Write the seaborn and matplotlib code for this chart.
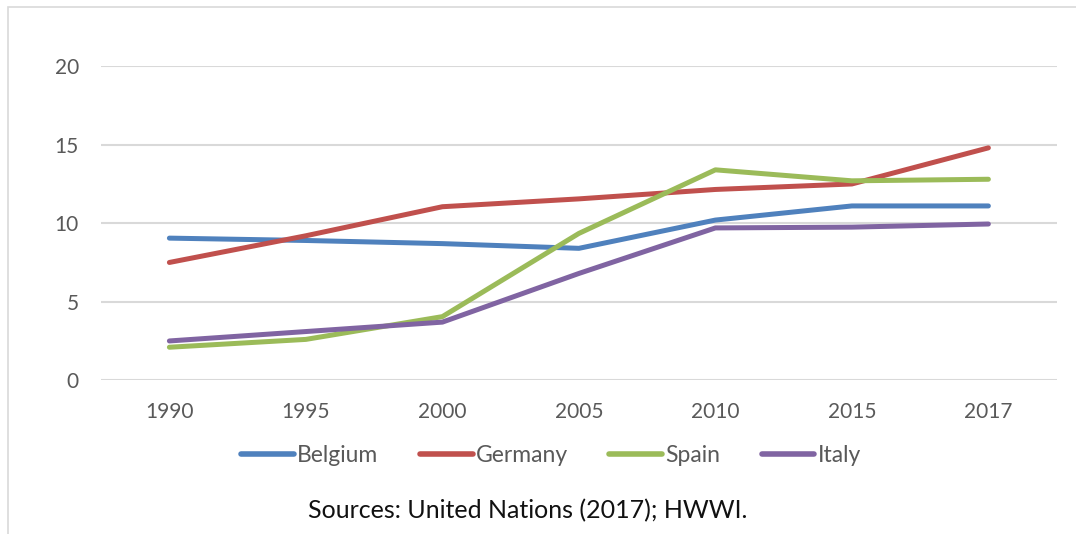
import matplotlib
matplotlib.use("Agg")
import matplotlib.pyplot as plt
from matplotlib.patches import Rectangle
import seaborn as sns
import pandas as pd

years = ["1990", "1995", "2000", "2005", "2010", "2015", "2017"]
belgium = [9.05, 8.9, 8.7, 8.4, 10.2, 11.1, 11.1]
germany = [7.5, 9.2, 11.05, 11.55, 12.15, 12.5, 14.8]
spain = [2.1, 2.6, 4.05, 9.35, 13.4, 12.7, 12.8]
italy = [2.5, 3.1, 3.7, 6.8, 9.7, 9.75, 9.95]

countries = ["Belgium", "Germany", "Spain", "Italy"]
colors = ["#4F81BD", "#C0504D", "#9BBB59", "#8064A2"]
source_note = "Sources: United Nations (2017); HWWI."

df = pd.DataFrame({
    "year": years * 4,
    "value": belgium + germany + spain + italy,
    "country": [c for c in countries for _ in years],
})

sns.set_theme(style="white")
plt.rcParams["font.family"] = ["Lato", "DejaVu Sans"]

fig = plt.figure(figsize=(10.76, 5.34), dpi=100)
ax = fig.add_axes([0.094, 0.288, 0.888, 0.588])

sns.lineplot(data=df, x="year", y="value", hue="country", hue_order=countries,
             palette=colors, linewidth=3.6, ax=ax, sort=False,
             solid_capstyle="round", solid_joinstyle="round")

ax.set_ylim(0, 20)
ax.set_xlim(-0.5, len(years) - 0.5)
ax.set_yticks([0, 5, 10, 15, 20])
ax.yaxis.grid(True, color="#D9D9D9", linewidth=1.5)
ax.xaxis.grid(False)
ax.set_axisbelow(True)
for s in ax.spines.values():
    s.set_visible(False)
ax.tick_params(axis="both", length=0, labelsize=15, colors="#595959")
ax.tick_params(axis="y", pad=16)
ax.tick_params(axis="x", pad=16)
ax.set_xlabel("")
ax.set_ylabel("")

handles, labels = ax.get_legend_handles_labels()
for h in handles:
    h.set_linewidth(4)
ax.legend(handles, labels, loc="center", bbox_to_anchor=(0.471, -0.239),
          ncol=4, frameon=False, fontsize=16.5, handlelength=2.3,
          handletextpad=0.15, columnspacing=1.8, labelcolor="#595959")

fig.text(0.49, 0.044, source_note, ha="center", va="center",
         fontsize=18, color="#111111")

# light outer frame of the chart area
fig.patches.append(Rectangle((8 / 1076, -0.1), 1.2, 1 - 7 / 534 + 0.1,
                             transform=fig.transFigure, fill=False,
                             edgecolor="#D9D9D9", linewidth=1.2))

fig.savefig("out.png", dpi=100, facecolor="white")
